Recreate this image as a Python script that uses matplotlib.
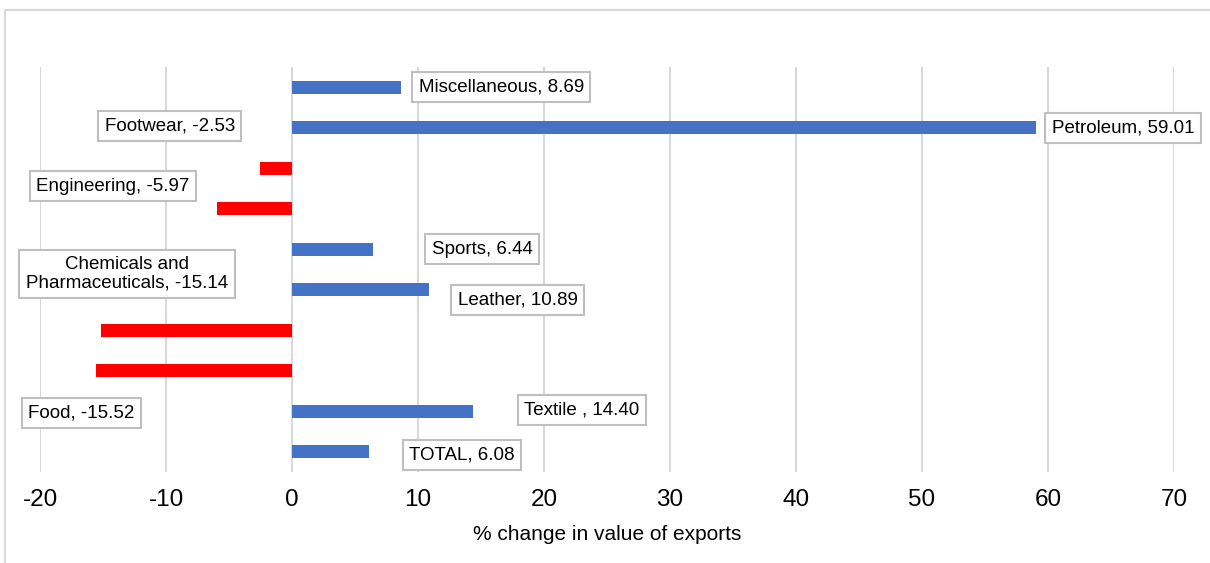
import matplotlib.pyplot as plt
from matplotlib.lines import Line2D

plt.rcParams['font.family'] = ['Liberation Sans', 'DejaVu Sans']

# sectors, bottom to top
sectors = ['TOTAL', 'Textile ', 'Food', 'Chemicals and\nPharmaceuticals', 'Leather',
           'Sports', 'Engineering', 'Footwear', 'Petroleum', 'Miscellaneous']
pct_change = [6.08, 14.40, -15.52, -15.14, 10.89, 6.44, -5.97, -2.53, 59.01, 8.69]
x_ticks = [-20, -10, 0, 10, 20, 30, 40, 50, 60, 70]

# where each callout box sits (data coords)
label_pos = {
    'TOTAL': (13.5, -0.07),
    'Textile ': (23.0, 1.04),
    'Food': (-16.7, 0.96),
    'Chemicals and\nPharmaceuticals': (-13.1, 4.39),
    'Leather': (17.9, 3.75),
    'Sports': (15.1, 5.0),
    'Engineering': (-14.2, 6.56),
    'Footwear': (-9.7, 8.04),
    'Petroleum': (65.95, 7.99),
    'Miscellaneous': (16.6, 9.0),
}

BLUE = '#4472C4'
RED = '#FF0000'
GRID = '#D9D9D9'

fig = plt.figure(figsize=(12.1, 5.63), dpi=100)
ax = fig.add_axes([40 / 1210, 1 - 472 / 563, (1174 - 40) / 1210, (472 - 67) / 563])

ypos = list(range(len(sectors)))
colors = [BLUE if v >= 0 else RED for v in pct_change]
ax.barh(ypos, pct_change, height=0.32, color=colors, zorder=2)

for name, v in zip(sectors, pct_change):
    lx, ly = label_pos[name]
    ax.text(lx, ly, f'{name}, {v:.2f}', ha='center', va='center', fontsize=13.5,
            linespacing=1.1, zorder=4,
            bbox=dict(boxstyle='square,pad=0.35', facecolor='white',
                      edgecolor='#BFBFBF', linewidth=1.5))

ax.set_xlim(-20, 70)
ax.set_ylim(-0.5, 9.5)
ax.set_xticks(x_ticks)
ax.set_xticklabels([str(t) for t in x_ticks], fontsize=17.5)
ax.set_yticks([])
ax.tick_params(axis='x', length=0, pad=12)
ax.grid(axis='x', color=GRID, linewidth=1.5, zorder=0)
ax.set_axisbelow(True)
for s in ax.spines.values():
    s.set_visible(False)
ax.set_xlabel('% change in value of exports', fontsize=15, labelpad=10)

# outer chart frame
fig.add_artist(Line2D([5 / 1210, 1], [1 - 10 / 563, 1 - 10 / 563], color=GRID, lw=1.5,
                      transform=fig.transFigure))
fig.add_artist(Line2D([5 / 1210, 5 / 1210], [0, 1 - 10 / 563], color=GRID, lw=1.5,
                      transform=fig.transFigure))

fig.savefig('out.png', dpi=100)
